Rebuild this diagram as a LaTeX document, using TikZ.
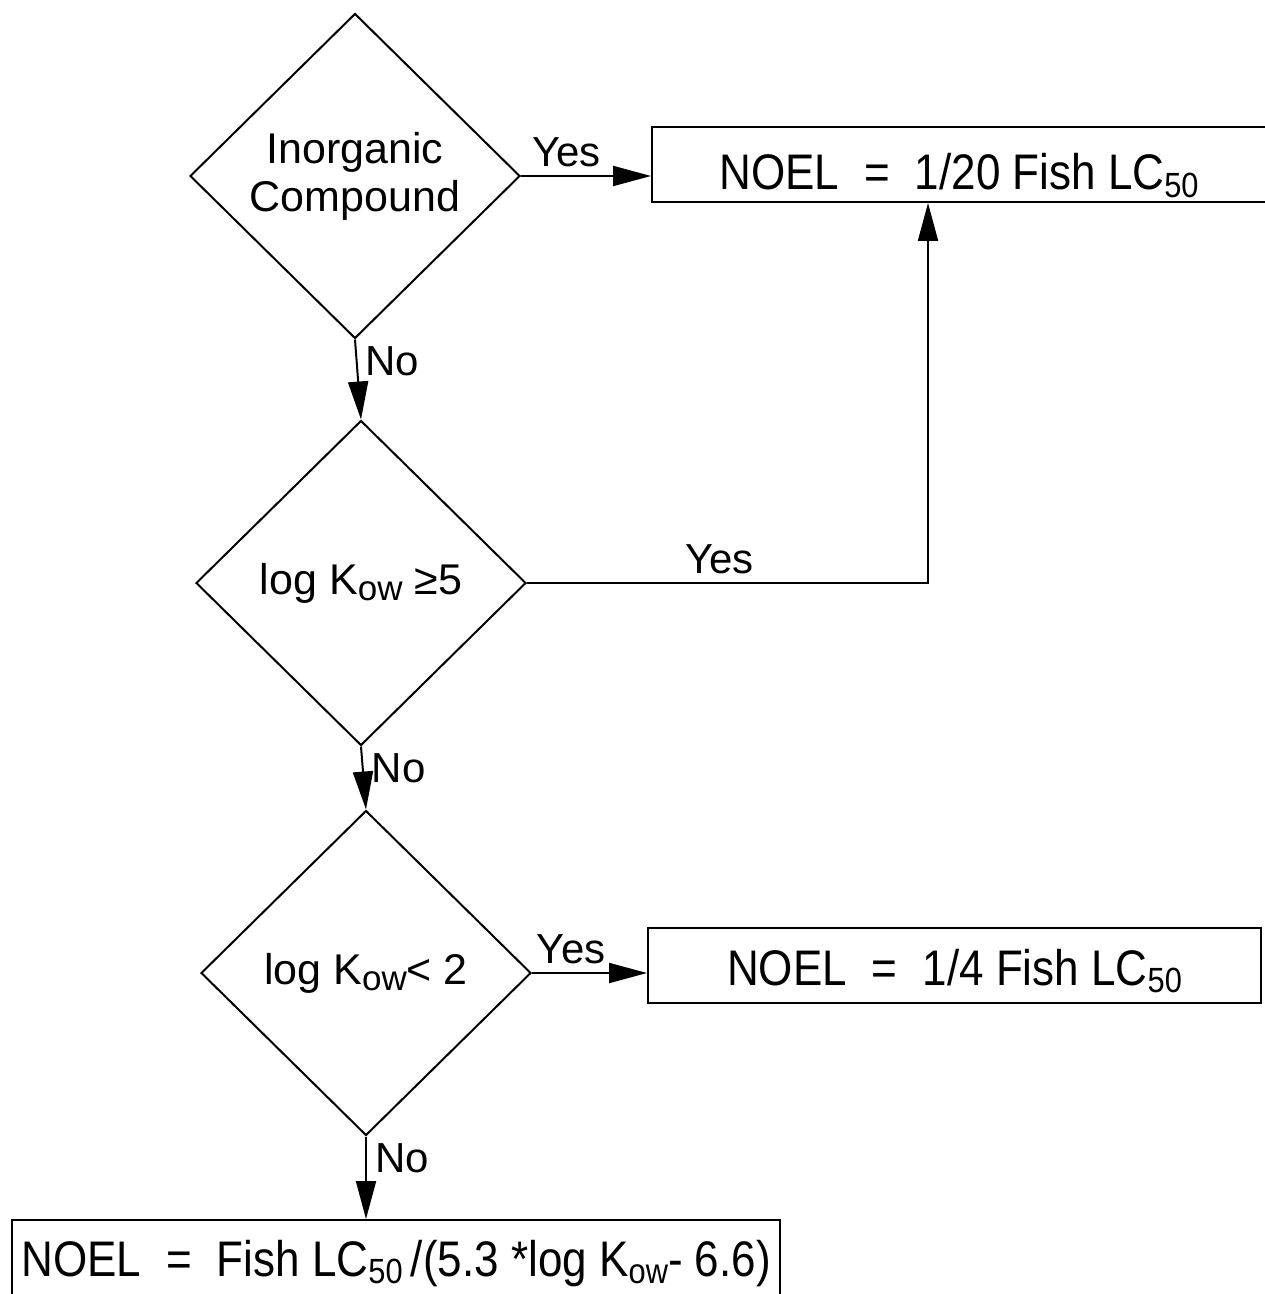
\documentclass[tikz,border=0pt]{standalone}
\usepackage{fontspec}
\setmainfont{Liberation Sans}
\newfontfamily\narrowsans[FakeStretch=0.88]{Liberation Sans}
\usetikzlibrary{shapes.geometric,arrows.meta}

% small lowered text for subscripts
\newcommand{\lowtxt}[1]{\raisebox{-0.3ex}{\fontsize{17.5}{17.5}\selectfont #1}}
\newcommand{\eqgap}{\hspace{0.5em}=\hspace{0.5em}}

\tikzset{
  decision/.style={draw, shape=diamond, line width=1pt, inner sep=0pt,
    minimum width=165pt, minimum height=162.5pt, align=center,
    font=\fontsize{21.5}{24}\selectfont},
  result/.style={draw, rectangle, line width=1pt, inner sep=0pt,
    font=\narrowsans\fontsize{25}{28}\selectfont},
  flow/.style={line width=1pt, -{Triangle[length=19pt,width=10pt]}},
  answer/.style={font=\fontsize{21}{24}\selectfont, inner sep=4pt}
}

\begin{document}
\begin{tikzpicture}[x=0.5pt, y=-0.5pt]
    \useasboundingbox (0,0) rectangle (1264,1294);

    % Decisions
    \node[decision] (inorg) at (355,176) {Inorganic\\Compound};
    \node[decision] (kowhigh) at (361,583) {log K\lowtxt{ow} ≥5};
    \node[decision] (kowlow) at (366,973) {log K\lowtxt{ow}< 2};

    % Results
    \node[result, minimum width=307pt, text height=31.5pt, text depth=6pt] (twenty) at (959,164.5)
        {NOEL\eqgap 1/20 Fish LC\lowtxt{50}};
    \node[result, minimum width=306.5pt, text height=28.5pt, text depth=9pt] (quarter) at (954.5,965.5)
        {NOEL\eqgap 1/4 Fish LC\lowtxt{50}};
    \node[result, minimum width=384pt, text height=28pt, text depth=12pt] (formula) at (396,1260)
        {NOEL\eqgap Fish LC\lowtxt{50}\,/(5.3 *log K\lowtxt{ow}- 6.6)};

    % Corner of the return line
    \coordinate (turn) at (928,581);

    % Yes branches
    \draw[flow] (inorg.east) -- node[answer, above, pos=0.35] {Yes} (inorg.east -| twenty.west);
    \draw[flow] (kowhigh.east) -| node[answer, above, pos=0.24] {Yes} (turn |- twenty.south);
    \draw[flow] (kowlow.east) -- node[answer, above, pos=0.34] {Yes} (kowlow.east -| quarter.west);

    % No branches
    \draw[flow] (inorg.south) -- node[answer, right, pos=0.27] {No} (kowhigh.north);
    \draw[flow] (kowhigh.south) -- node[answer, right, pos=0.34] {No} (kowlow.north);
    \draw[flow] (kowlow.south) -- node[answer, right, pos=0.26] {No} (kowlow.south |- formula.north);
\end{tikzpicture}
\end{document}
